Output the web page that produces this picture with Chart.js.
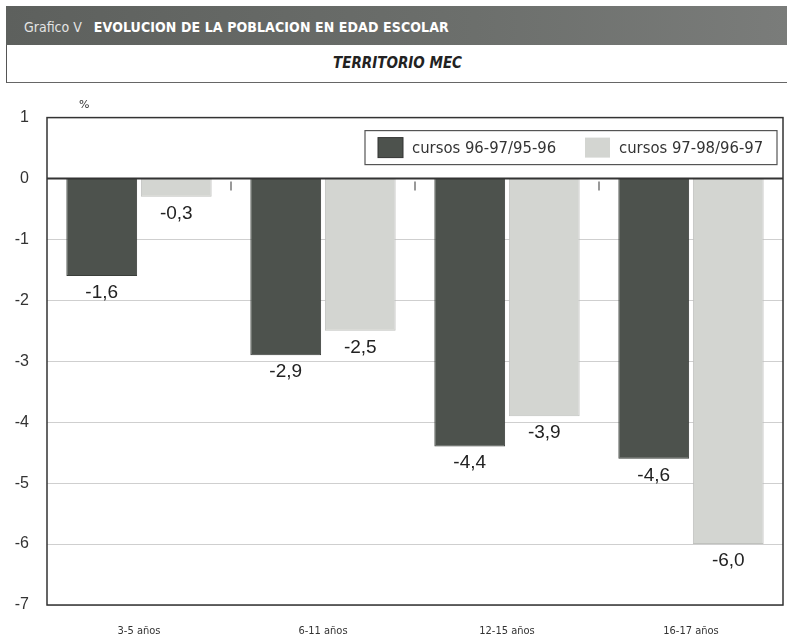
<!DOCTYPE html>
<html>
<head>
<meta charset="utf-8">
<script src="https://cdn.jsdelivr.net/npm/chart.js@4.4.0/dist/chart.umd.min.js"></script>
<style>
  html, body { margin: 0; padding: 0; background: #fff; }
  body { width: 787px; height: 638px; position: relative; overflow: hidden; font-family: "Liberation Sans", Arial, sans-serif; }
  .banner {
    position: absolute; left: 6px; top: 6px; width: 781px; height: 39px;
    background: linear-gradient(to right, #5d605d, #6c6f6c 60%, #7a7c7a);
    color: #fff; line-height: 41px; white-space: nowrap;
  }
  .banner .num { font-family: "DejaVu Sans Condensed", "Liberation Sans Narrow", sans-serif; font-size: 14px; margin-left: 18px; color: #e4e4e4; }
  .banner .ttl { font-family: "DejaVu Sans Condensed", sans-serif; font-weight: bold; font-size: 14px; letter-spacing: 0.1px; margin-left: 12px; }
  .sub {
    position: absolute; left: 6px; top: 45px; width: 781px; height: 37px;
    border-left: 1px solid #555; border-bottom: 1px solid #666;
    text-align: center; line-height: 37px;
    font-family: "DejaVu Sans Condensed", sans-serif; font-style: italic; font-weight: bold; font-size: 15px; color: #222;
  }
  #wrap { position: absolute; left: 0; top: 90px; width: 787px; height: 548px; }
</style>
</head>
<body>
<div class="banner"><span class="num">Grafico V</span><span class="ttl">EVOLUCION DE LA POBLACION EN EDAD ESCOLAR</span></div>
<div class="sub">TERRITORIO MEC</div>
<div id="wrap"><canvas id="chart"></canvas></div>
<script>
const categories = ['3-5 años', '6-11 años', '12-15 años', '16-17 años'];
const seriesLabels = ['cursos 96-97/95-96', 'cursos 97-98/96-97'];
const values9697 = [-1.6, -2.9, -4.4, -4.6];
const values9798 = [-0.3, -2.5, -3.9, -6.0];
const yMin = -7;
const yMax = 1;

const darkColor = '#4d524d';
const lightColor = '#d3d5d1';

// labels under each bar, with comma decimals
const valueLabels = {
  id: 'valueLabels',
  afterDatasetsDraw(chart) {
    const ctx = chart.ctx;
    ctx.save();
    ctx.font = '19px "Liberation Sans", Arial, sans-serif';
    ctx.fillStyle = '#222';
    ctx.textAlign = 'center';
    ctx.textBaseline = 'top';
    chart.data.datasets.forEach((ds, i) => {
      chart.getDatasetMeta(i).data.forEach((bar, j) => {
        const txt = ds.data[j].toFixed(1).replace('.', ',');
        ctx.fillText(txt, bar.x, bar.y + 7);
      });
    });
    ctx.restore();
  }
};

// frame, zero line, small boundary ticks, legend box
const frame = {
  id: 'frame',
  beforeDatasetsDraw(chart) {
    const { ctx, scales } = chart;
    const y0 = scales.y.getPixelForValue(0);
    ctx.save();
    ctx.strokeStyle = '#777';
    ctx.lineWidth = 1.5;
    for (let i = 1; i < categories.length; i++) {
      const x = (scales.x.getPixelForValue(i - 1) + scales.x.getPixelForValue(i)) / 2;
      ctx.beginPath();
      ctx.moveTo(x, y0 + 3);
      ctx.lineTo(x, y0 + 12);
      ctx.stroke();
    }
    ctx.restore();
  },
  afterDatasetsDraw(chart) {
    const { ctx, chartArea: a, scales } = chart;
    const y0 = scales.y.getPixelForValue(0);
    ctx.save();
    ctx.strokeStyle = '#333';
    ctx.lineWidth = 1.5;
    ctx.strokeRect(a.left, a.top, a.right - a.left, a.bottom - a.top);
    ctx.lineWidth = 2;
    ctx.beginPath();
    ctx.moveTo(a.left, y0);
    ctx.lineTo(a.right, y0);
    ctx.stroke();

    // % label
    ctx.fillStyle = '#333';
    ctx.font = '11px "DejaVu Sans", sans-serif';
    ctx.textAlign = 'left';
    ctx.textBaseline = 'bottom';
    ctx.fillText('%', a.left + 32, a.top - 7);

    // legend box
    const lx = 365, ly = a.top + 13, lw = 412, lh = 34;
    ctx.fillStyle = '#fff';
    ctx.fillRect(lx, ly, lw, lh);
    ctx.strokeStyle = '#555';
    ctx.lineWidth = 1.2;
    ctx.strokeRect(lx, ly, lw, lh);
    const colors = [darkColor, lightColor];
    const offsets = [13, 220];
    ctx.font = '16.5px "DejaVu Sans Condensed", "Liberation Sans Narrow", sans-serif';
    ctx.textBaseline = 'middle';
    seriesLabels.forEach((lab, i) => {
      ctx.fillStyle = colors[i];
      ctx.fillRect(lx + offsets[i], ly + 7, 25, 20);
      if (i === 0) {
        ctx.strokeStyle = '#333';
        ctx.lineWidth = 1;
        ctx.strokeRect(lx + offsets[i], ly + 7, 25, 20);
      }
      ctx.fillStyle = '#333';
      ctx.fillText(lab, lx + offsets[i] + 34, ly + lh / 2 + 1);
    });
    ctx.restore();
  }
};

new Chart(document.getElementById('chart'), {
  type: 'bar',
  data: {
    labels: categories,
    datasets: [
      { label: seriesLabels[0], data: values9697, backgroundColor: darkColor, borderColor: '#3a3e3a', borderWidth: 1, categoryPercentage: 0.81, barPercentage: 0.95 },
      { label: seriesLabels[1], data: values9798, backgroundColor: lightColor, borderColor: '#bfc1bd', borderWidth: 1, categoryPercentage: 0.81, barPercentage: 0.95 }
    ]
  },
  options: {
    responsive: true,
    maintainAspectRatio: false,
    animation: false,
    layout: { padding: { top: 25, right: 4, left: 0, bottom: 0 } },
    plugins: { legend: { display: false }, tooltip: { enabled: false } },
    scales: {
      x: {
        grid: { display: false },
        border: { display: false },
        ticks: { color: '#333', font: { family: '"DejaVu Sans Condensed", sans-serif', size: 11 }, padding: 12 },
        afterFit(s) { s.height = 33; }
      },
      y: {
        min: yMin,
        max: yMax,
        ticks: { stepSize: 1, color: '#333', font: { family: '"Liberation Sans", Arial, sans-serif', size: 16 }, padding: 18 },
        grid: { color: '#cfcfcf', lineWidth: 1, drawTicks: false },
        border: { display: false },
        afterFit(s) { s.width = 47; }
      }
    }
  },
  plugins: [frame, valueLabels]
});
</script>
</body>
</html>
